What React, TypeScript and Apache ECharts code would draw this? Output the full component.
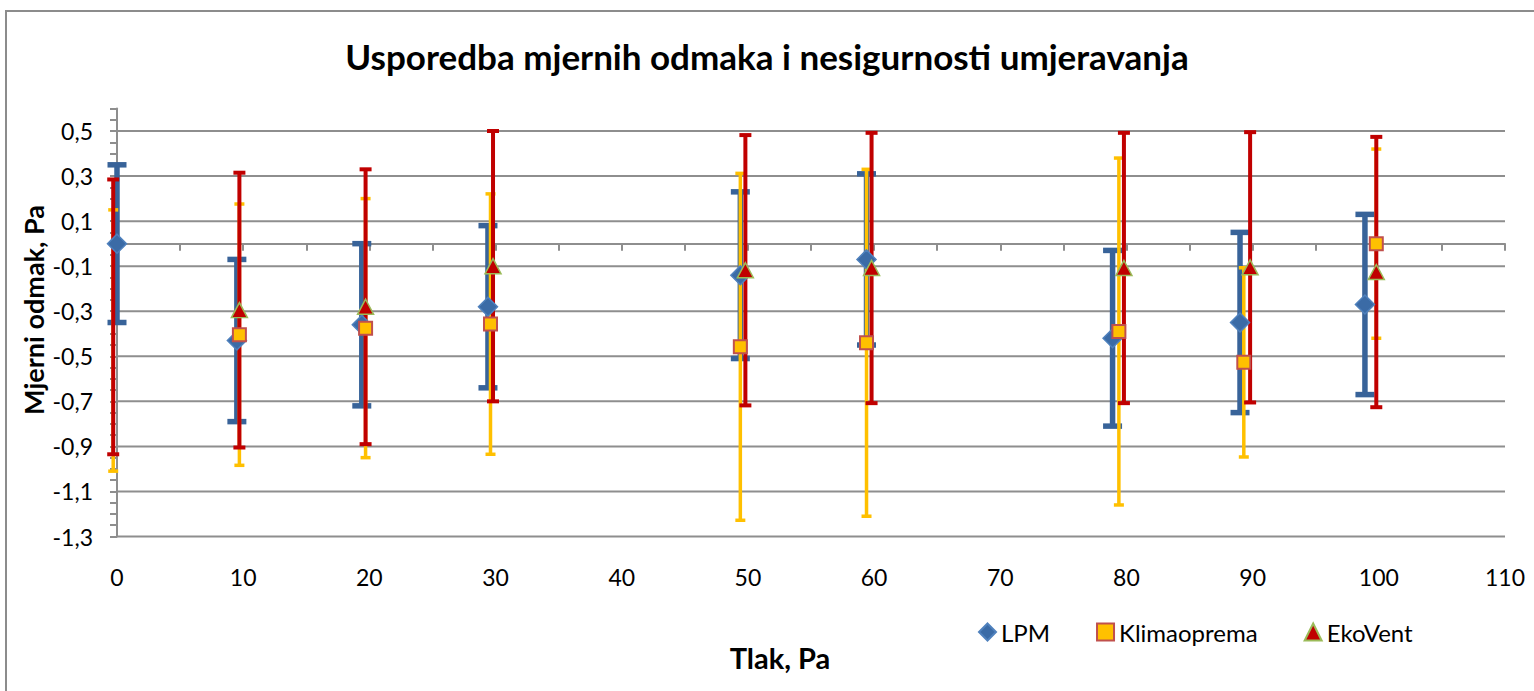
import React, { useEffect, useRef } from 'react';
import * as echarts from 'echarts';

const chartTitle = 'Usporedba mjernih odmaka i nesigurnosti umjeravanja';
const xTitle = 'Tlak, Pa';
const yTitle = 'Mjerni odmak, Pa';

const seriesNames = ['LPM', 'Klimaoprema', 'EkoVent'];

const lpmX = [0, 9.5, 19.4, 29.4, 49.4, 59.4, 78.9, 89.0, 98.9];
const lpmY = [0.0, -0.43, -0.36, -0.28, -0.14, -0.07, -0.42, -0.35, -0.27];
const lpmErr = [0.35, 0.36, 0.36, 0.36, 0.37, 0.38, 0.39, 0.4, 0.4];

const klimaX = [-0.3, 9.7, 19.7, 29.6, 49.4, 59.4, 79.4, 89.3, 99.8];
const klimaY = [-0.43, -0.404, -0.375, -0.357, -0.458, -0.44, -0.39, -0.527, 0.0];
const klimaErr = [0.58, 0.58, 0.575, 0.578, 0.77, 0.77, 0.77, 0.42, 0.42];

const ekoX = [-0.3, 9.7, 19.7, 29.8, 49.8, 59.8, 79.8, 89.8, 99.8];
const ekoY = [-0.325, -0.295, -0.28, -0.1, -0.118, -0.108, -0.108, -0.105, -0.126];
const ekoErr = [0.61, 0.61, 0.61, 0.6, 0.6, 0.6, 0.6, 0.6, 0.6];

const yTickLabels = [-1.3, -1.1, -0.9, -0.7, -0.5, -0.3, -0.1, 0.1, 0.3, 0.5];

const FONT = 'Lato';
const GRID_COLOR = '#8e8e8e';

function errData(xs: number[], ys: number[], es: number[]) {
  return xs.map((x, i) => [x, ys[i] - es[i], ys[i] + es[i]]);
}
function pointData(xs: number[], ys: number[]) {
  // points outside the x-axis range are not drawn (as in the original)
  return xs.map((x, i) => [x, ys[i]]).filter((p) => p[0] >= 0);
}

function errRender(color: string, lw: number, cap: number) {
  return (params: any, api: any) => {
    const x = api.value(0);
    const lo = api.value(1);
    const hi = api.value(2);
    const top = api.coord([x, hi]);
    const bot = api.coord([x, lo]);
    const style = { stroke: color, lineWidth: lw };
    return {
      type: 'group',
      children: [
        { type: 'line', shape: { x1: top[0], y1: top[1], x2: bot[0], y2: bot[1] }, style },
        { type: 'line', shape: { x1: top[0] - cap / 2, y1: top[1], x2: top[0] + cap / 2, y2: top[1] }, style },
        { type: 'line', shape: { x1: bot[0] - cap / 2, y1: bot[1], x2: bot[0] + cap / 2, y2: bot[1] }, style },
      ],
    };
  };
}

export default function App() {
  const ref = useRef<HTMLDivElement>(null);
  useEffect(() => {
    document.body.style.margin = '0';
    const chart = echarts.init(ref.current!, null, { renderer: 'svg' });
    const option: any = {
      animation: false,
      backgroundColor: '#ffffff',
      title: {
        text: chartTitle,
        left: 'center',
        top: 33,
        textStyle: { fontFamily: FONT, fontSize: 35, fontWeight: 'bold', color: '#000' },
      },
      legend: {
        data: seriesNames,
        left: 973,
        top: 615,
        itemGap: 46,
        itemWidth: 17,
        itemHeight: 17,
        textStyle: { fontFamily: FONT, fontSize: 24, color: '#000' },
      },
      grid: { left: 117, right: 29, top: 108.5, bottom: 154.5, containLabel: false },
      xAxis: [
        {
          type: 'value',
          min: 0,
          max: 110,
          interval: 10,
          position: 'bottom',
          axisLine: { show: false, onZero: false },
          axisTick: { show: false },
          splitLine: { show: false },
          axisLabel: { margin: 29, fontFamily: FONT, fontSize: 23, color: '#000' },
        },
        {
          type: 'value',
          min: 0,
          max: 110,
          interval: 5,
          position: 'top',
          axisLine: { show: true, onZero: true, lineStyle: { color: GRID_COLOR, width: 2 } },
          axisTick: { show: true, inside: true, length: 7, lineStyle: { color: GRID_COLOR, width: 2 } },
          axisLabel: { show: false },
          splitLine: { show: false },
        },
      ],
      yAxis: {
        type: 'value',
        min: -1.3,
        max: 0.6,
        interval: 0.05,
        axisLine: { show: true, onZero: false, lineStyle: { color: GRID_COLOR, width: 2 } },
        axisTick: { show: true, length: 7, lineStyle: { color: GRID_COLOR, width: 2 } },
        splitLine: { show: false },
        axisLabel: {
          margin: 24,
          fontFamily: FONT,
          fontSize: 23,
          color: '#000',
          formatter: (v: number) => {
            const m = yTickLabels.find((t) => Math.abs(t - v) < 1e-6);
            return m === undefined ? '' : m.toFixed(1).replace('.', ',');
          },
        },
      },
      graphic: [
        {
          type: 'rect',
          shape: { x: 6, y: 11, width: 1700, height: 900 },
          style: { fill: 'none', stroke: '#8c8c8c', lineWidth: 2 },
          silent: true,
          z: -10,
        },
        {
          type: 'text',
          x: 33,
          y: 310,
          rotation: Math.PI / 2,
          style: {
            text: yTitle,
            fontFamily: FONT,
            fontSize: 27,
            fontWeight: 'bold',
            fill: '#000',
            textAlign: 'center',
            textVerticalAlign: 'middle',
          },
        },
        {
          type: 'text',
          x: 780,
          y: 657,
          style: {
            text: xTitle,
            fontFamily: FONT,
            fontSize: 29,
            fontWeight: 'bold',
            fill: '#000',
            textAlign: 'center',
            textVerticalAlign: 'middle',
          },
        },
      ],
      series: [
        {
          name: 'grid',
          type: 'custom',
          silent: true,
          z: 1,
          data: yTickLabels.map((v) => [0, v]),
          encode: { x: 0, y: 1 },
          renderItem: (params: any, api: any) => {
            const p = api.coord([0, api.value(1)]);
            const cs = params.coordSys;
            return {
              type: 'line',
              shape: { x1: cs.x, y1: p[1], x2: cs.x + cs.width, y2: p[1] },
              style: { stroke: GRID_COLOR, lineWidth: 2 },
            };
          },
        },
        {
          name: 'LPM err',
          type: 'custom',
          z: 2,
          data: errData(lpmX, lpmY, lpmErr),
          encode: { x: 0, y: [1, 2] },
          renderItem: errRender('#386399', 5.5, 19),
        },
        {
          name: 'Klimaoprema err',
          type: 'custom',
          z: 3,
          data: errData(klimaX, klimaY, klimaErr),
          encode: { x: 0, y: [1, 2] },
          renderItem: errRender('#FFC000', 3.5, 10),
        },
        {
          name: 'EkoVent err',
          type: 'custom',
          z: 4,
          data: errData(ekoX, ekoY, ekoErr),
          encode: { x: 0, y: [1, 2] },
          renderItem: errRender('#C00000', 4, 12),
        },
        {
          name: 'LPM',
          type: 'scatter',
          z: 5,
          symbol: 'diamond',
          symbolSize: [19, 19],
          data: pointData(lpmX, lpmY),
          itemStyle: { color: '#3B6BA6', borderColor: '#4F81BD', borderWidth: 1.5, opacity: 1 },
        },
        {
          name: 'Klimaoprema',
          type: 'scatter',
          z: 6,
          symbol: 'rect',
          symbolSize: [13, 13],
          data: pointData(klimaX, klimaY),
          itemStyle: { color: '#FFC000', borderColor: '#C0504D', borderWidth: 2, opacity: 1 },
        },
        {
          name: 'EkoVent',
          type: 'scatter',
          z: 7,
          symbol: 'triangle',
          symbolSize: [16, 15],
          data: pointData(ekoX, ekoY),
          itemStyle: { color: '#C00000', borderColor: '#9BBB59', borderWidth: 1.5, opacity: 1 },
        },
      ],
    };
    chart.setOption(option);
    return () => chart.dispose();
  }, []);
  return <div ref={ref} style={{ width: 1534, height: 691 }} />;
}
